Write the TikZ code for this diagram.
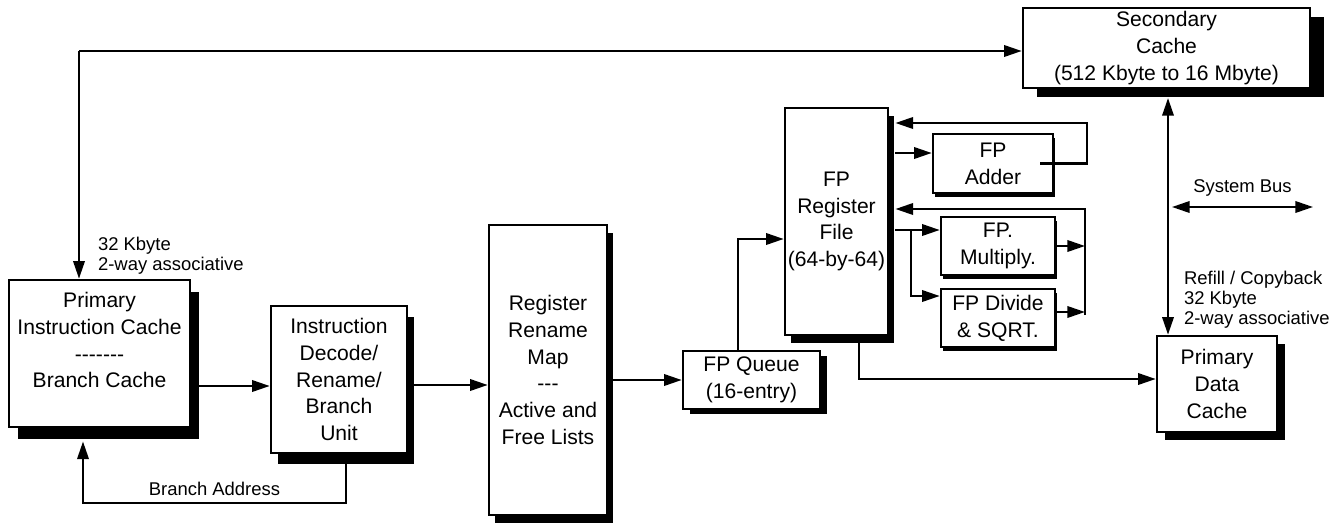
\documentclass[tikz,border=0pt]{standalone}
\usepackage{fontspec}
\setmainfont{Liberation Sans}
\usetikzlibrary{arrows.meta,shadows}

\begin{document}
\begin{tikzpicture}[x=0.02cm,y=-0.02cm,>={Triangle[length=10pt,width=6.5pt]},line width=1.2pt,
  blk/.style 2 args={draw,fill=white,line width=1.5pt,align=center,inner sep=1pt,
    font=\fontsize{12}{15.2}\selectfont,
    drop shadow={shadow xshift=#1,shadow yshift=#2,fill=black,opacity=1}},
  note/.style={align=left,inner sep=0pt,font=\fontsize{10.5}{11.5}\selectfont}]

  % Page size in pixels of the original figure
  \def\px{0.02cm}
  \useasboundingbox (0,0) rectangle (1343,524);

  % --- Blocks ---
  \node[blk={5.1pt}{-6.8pt},minimum width=181*\px,minimum height=147*\px] (pic) at (99.5,353.5)
    {Primary\\Instruction Cache\\{-}{-}{-}{-}{-}{-}{-}\\Branch Cache\\\mbox{}};
  \node[blk={4pt}{-6.2pt},minimum width=136*\px,minimum height=147*\px] (dec) at (339,379.5)
    {Instruction\\Decode/\\Rename/\\Branch\\Unit};
  \node[blk={3.4pt}{-4.5pt},minimum width=118*\px,minimum height=290*\px] (rrm) at (548,370)
    {Register\\Rename\\Map\\{-}{-}{-}\\Active and\\Free Lists};
  \node[blk={4pt}{-2.8pt},minimum width=137*\px,minimum height=58*\px] (fpq) at (751.5,380)
    {FP Queue\\(16-entry)};
  \node[blk={3.4pt}{-4.5pt},minimum width=103*\px,minimum height=227*\px] (fprf) at (836.5,221.5)
    {FP\\Register\\File\\(64-by-64)};
  \node[blk={8pt}{-5pt},minimum width=287*\px,minimum height=80*\px] (sec) at (1166.5,48)
    {Secondary\\Cache\\(512 Kbyte to 16 Mbyte)};
  \node[blk={1pt}{-2pt},minimum width=120*\px,minimum height=59*\px] (add) at (993,163.5)
    {FP\\Adder};
  \node[blk={1pt}{-2pt},minimum width=114*\px,minimum height=58*\px] (mul) at (998,246)
    {FP.\\Multiply.};
  \node[blk={1pt}{-2pt},minimum width=114*\px,minimum height=58*\px] (div) at (998,318)
    {FP Divide\\\& SQRT.};
  \node[blk={4.5pt}{-4.5pt},minimum width=120*\px,minimum height=96*\px] (pdc) at (1217,384)
    {Primary\\Data\\Cache};

  % --- Annotations ---
  \node[note,anchor=north west] (icnote) at (97,236) {32 Kbyte\\2-way associative};
  \node[note,anchor=north west] (dcnote) at (1183,270) {Refill / Copyback\\32 Kbyte\\2-way associative};

  % --- Main pipeline ---
  \coordinate (tl) at (79,51);
  \draw[->] (tl) -- (tl -| sec.west);
  \draw[->] (tl) -- (tl |- pic.north);
  \draw[->] (pic.east |- 0,386) -- (dec.west |- 0,386);
  \draw[->] (dec.east |- 0,385) -- (rrm.west |- 0,385);
  \draw[->] (rrm.east |- fpq.west) -- (fpq.west);
  \draw[->] (fpq.north -| 738,0) |- (fprf.west |- 0,239);
  \draw[->] (fprf.south -| 859,0) |- (pdc.west |- 0,379);

  % Branch address feedback
  \coordinate (pics) at ([yshift=-7.5pt]pic.south);
  \draw[->] (dec.south -| 346,0) -- (346,503)
    -| node[pos=0.25,above=3.5pt,note] (banote) {Branch Address} (pics -| 83,0);

  % --- FP units ---
  \coordinate (rfe) at ([xshift=3.5pt]fprf.east);
  \coordinate (ao) at ([xshift=-8pt]add.east);
  \coordinate (sp) at (911,230);
  \coordinate (fb) at (1085,209);
  \draw[->] (rfe |- 0,153) -- (add.west |- 0,153);
  \draw[->] (ao) -| (1087,123) -- (rfe |- 0,123);
  \draw[->] (rfe |- sp) -- (mul.west |- sp);
  \draw[->] (sp) |- (div.west |- 0,296);
  \draw[->] (mul.east |- 0,246) -- (fb |- 0,246);
  \draw[->] (div.east |- 0,312) -- (fb |- 0,312);
  \draw[->] (fb |- 0,315) -- (fb) -- (rfe |- fb);

  % --- Memory side ---
  \coordinate (secs) at ([yshift=-5pt]sec.south);
  \draw[<->] (secs -| 1168,0) -- (pdc.north -| 1168,0);
  \coordinate (busl) at (1172,207);
  \coordinate (busr) at (1313,207);
  \draw[<->] (busl) -- node[above=5.5pt,note] (busnote) {System Bus} (busr);

\end{tikzpicture}
\end{document}
